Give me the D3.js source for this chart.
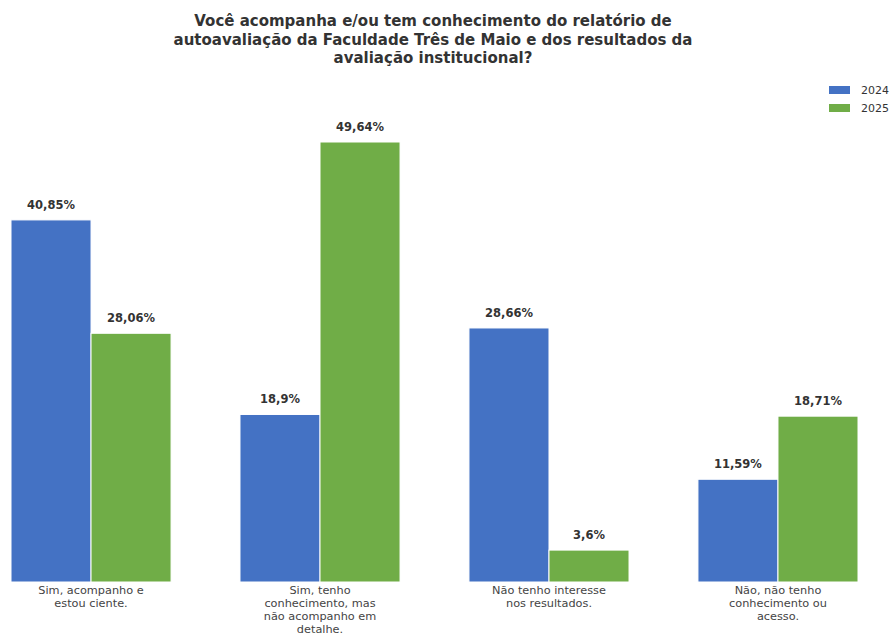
<!DOCTYPE html>
<html><head><meta charset="utf-8">
<script src="https://cdn.jsdelivr.net/npm/d3@7"></script>
<style>body{margin:0;background:#fff;}svg{display:block;font-family:"DejaVu Sans",sans-serif;}</style>
</head><body><svg id="c" width="890" height="635"></svg>
<script>
const titleLines = ["Você acompanha e/ou tem conhecimento do relatório de","autoavaliação da Faculdade Três de Maio e dos resultados da","avaliação institucional?"];
const categories = ["Sim, acompanho e estou ciente.","Sim, tenho conhecimento, mas não acompanho em detalhe.","Não tenho interesse nos resultados.","Não, não tenho conhecimento ou acesso."];
const categoryLines = [["Sim, acompanho e","estou ciente."],["Sim, tenho","conhecimento, mas","não acompanho em","detalhe."],["Não tenho interesse","nos resultados."],["Não, não tenho","conhecimento ou","acesso."]];
const seriesNames = ["2024","2025"];
const values2024 = [40.85, 18.9, 28.66, 11.59];
const values2025 = [28.06, 49.64, 3.6, 18.71];
const labels2024 = ["40,85%","18,9%","28,66%","11,59%"];
const labels2025 = ["28,06%","49,64%","3,6%","18,71%"];
const colors = ["#4472c4","#70ad47"];

const svg = d3.select("#c");
const baseY = 582;
const x0 = d3.scaleBand().domain(categories).range([11, 858]).paddingInner(0.301).paddingOuter(0);
const x1 = d3.scaleBand().domain(seriesNames).range([0, x0.bandwidth()]);
const y = d3.scaleLinear().domain([0, 49.64]).range([baseY, 142]);

const data = categories.map((c,i)=>({c, vals:[{s:"2024",v:values2024[i],l:labels2024[i]},{s:"2025",v:values2025[i],l:labels2025[i]}]}));

const g = svg.append("g");
const grp = g.selectAll("g.grp").data(data).join("g").attr("transform",d=>`translate(${x0(d.c)},0)`);
grp.selectAll("rect").data(d=>d.vals).join("rect")
  .attr("x",d=>x1(d.s)).attr("width",x1.bandwidth())
  .attr("y",d=>y(d.v)).attr("height",d=>baseY-y(d.v))
  .attr("fill",(d,i)=>colors[i]).attr("stroke","#fff").attr("stroke-width",1);
grp.selectAll("text").data(d=>d.vals).join("text")
  .attr("x",d=>x1(d.s)+x1.bandwidth()/2).attr("y",d=>y(d.v)-11)
  .attr("text-anchor","middle").attr("font-size",11.5).attr("font-weight","bold").attr("fill","#333")
  .text(d=>d.l);

// x axis labels
const xa = svg.append("g");
categories.forEach((c,i)=>{
  const t = xa.append("text").attr("text-anchor","middle").attr("font-size",11.3).attr("fill","#444")
    .attr("x", x0(c)+x0.bandwidth()/2);
  categoryLines[i].forEach((ln,j)=>{
    t.append("tspan").attr("x", x0(c)+x0.bandwidth()/2).attr("y", 594+j*12.9).text(ln);
  });
});

// title
const tt = svg.append("text").attr("text-anchor","middle").attr("font-size",15).attr("font-weight","bold").attr("fill","#333");
titleLines.forEach((ln,j)=>tt.append("tspan").attr("x",433).attr("y",26+j*18.5).text(ln));

// legend
const lg = svg.append("g");
seriesNames.forEach((s,i)=>{
  lg.append("rect").attr("x",829).attr("y",86+i*18).attr("width",21).attr("height",8).attr("fill",colors[i]);
  lg.append("text").attr("x",861).attr("y",94+i*18).attr("font-size",11).attr("fill","#333").text(s);
});
</script></body></html>
